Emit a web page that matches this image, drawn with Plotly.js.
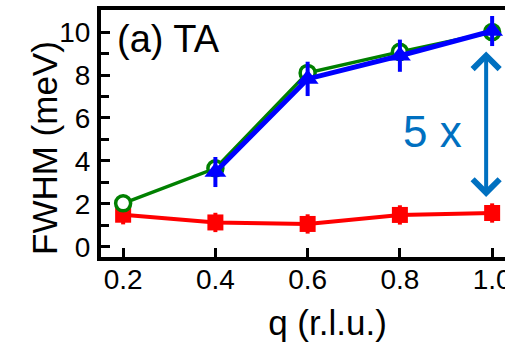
<!DOCTYPE html>
<html>
<head>
<meta charset="utf-8">
<script src="https://cdn.plot.ly/plotly-3.0.1.min.js"></script>
<style>
html,body{margin:0;padding:0;overflow:hidden;background:#fff;width:505px;height:342px;}
#chart{width:570px;height:342px;}
</style>
</head>
<body>
<div id="chart"></div>
<script>
// Data
const q = [0.2, 0.4, 0.6, 0.8, 1.0];
const redFWHM = [1.49, 1.13, 1.06, 1.48, 1.57];
const redErr = [0.45, 0.45, 0.45, 0.45, 0.45];
const greenFWHM = [2.02, 3.65, 8.1, 9.08, 10.0];
const qBlue = [0.4, 0.6, 0.8, 1.0];
const blueFWHM = [3.48, 7.82, 8.9, 10.05];
const blueErr = [0.7, 0.8, 0.75, 0.7];
const xTickVals = [0.2, 0.4, 0.6, 0.8, 1.0];
const xTickText = ['0.2', '0.4', '0.6', '0.8', '1.0'];
const yTickVals = [0, 2, 4, 6, 8, 10];

const FONT = '"Liberation Sans", Arial, sans-serif';

const traces = [
  {
    x: q, y: redFWHM, type: 'scatter', mode: 'lines+markers',
    line: {color: '#ff0000', width: 4},
    marker: {symbol: 'square', size: 16, color: '#ff0000'},
    error_y: {type: 'data', array: redErr, visible: true, color: '#ff0000', thickness: 4, width: 0},
    showlegend: false, hoverinfo: 'skip'
  },
  {
    x: q, y: greenFWHM, type: 'scatter', mode: 'lines+markers',
    line: {color: '#008000', width: 3.5},
    marker: {symbol: 'circle', size: 15, color: '#ffffff', line: {color: '#008000', width: 3.5}},
    showlegend: false, hoverinfo: 'skip'
  },
  {
    x: qBlue, y: blueFWHM, type: 'scatter', mode: 'lines+markers',
    line: {color: '#0000ff', width: 5},
    marker: {symbol: 'triangle-up', size: 19, color: '#0000ff'},
    error_y: {type: 'data', array: blueErr, visible: true, color: '#0000ff', thickness: 4, width: 0},
    showlegend: false, hoverinfo: 'skip'
  }
];

const W = 570, ML = 101, MR = 16;
const PW = W - ML - MR;
const PH = 247;

const layout = {
  width: W, height: 342,
  margin: {l: ML, r: MR, t: 10, b: 85, pad: 0},
  paper_bgcolor: '#ffffff', plot_bgcolor: '#ffffff',
  font: {family: FONT, color: '#000000'},
  showlegend: false,
  xaxis: {
    range: [0.152, 0.152 + PW / 461.25],
    tickvals: xTickVals, ticktext: xTickText,
    ticks: 'inside', ticklen: 9, tickwidth: 3, tickcolor: '#000',
    showline: true, linewidth: 4, linecolor: '#000', mirror: true,
    showgrid: false, zeroline: false,
    tickfont: {family: FONT, size: 28, color: '#000'},
    ticklabelstandoff: -6,
    title: {text: 'q (r.l.u.)', font: {family: FONT, size: 35, color: '#000'}, standoff: 30}
  },
  yaxis: {
    range: [-0.48, 11.03],
    tickvals: yTickVals,
    ticks: 'inside', ticklen: 9, tickwidth: 3, tickcolor: '#000',
    minor: {dtick: 1, tick0: 0, ticks: 'inside', ticklen: 8, tickwidth: 3, tickcolor: '#000', showgrid: false},
    showline: true, linewidth: 4, linecolor: '#000', mirror: true,
    showgrid: false, zeroline: false,
    tickfont: {family: FONT, size: 28, color: '#000'},
    ticklabelstandoff: 1
  },
  annotations: [
    {
      text: 'FWHM (meV)', xref: 'paper', yref: 'paper', textangle: -90,
      x: (44 - ML) / PW, y: 1 - (148 - 10) / PH, xanchor: 'center', yanchor: 'middle',
      showarrow: false, font: {family: FONT, size: 35, color: '#000'}
    },
    {
      text: '(a) TA', xref: 'paper', yref: 'paper',
      x: (115 - ML) / PW, y: 1 - (39 - 10) / PH, xanchor: 'left', yanchor: 'middle',
      showarrow: false, font: {family: FONT, size: 38, color: '#000'}
    },
    {
      text: '5 x', xref: 'paper', yref: 'paper',
      x: (432 - ML) / PW, y: 1 - (131 - 10) / PH, xanchor: 'center', yanchor: 'middle',
      showarrow: false, font: {family: FONT, size: 44, color: '#0070C0'}
    },
    {
      x: 0.987, y: 2.32, ax: 0.987, ay: 9.17, xref: 'x', yref: 'y', axref: 'x', ayref: 'y',
      text: '', showarrow: true, arrowside: 'end+start',
      arrowhead: 4, startarrowhead: 4, arrowsize: 1.3, startarrowsize: 1.3,
      arrowwidth: 4, arrowcolor: '#0070C0'
    }
  ]
};

Plotly.newPlot('chart', traces, layout, {staticPlot: true, displayModeBar: false});
</script>
</body>
</html>
